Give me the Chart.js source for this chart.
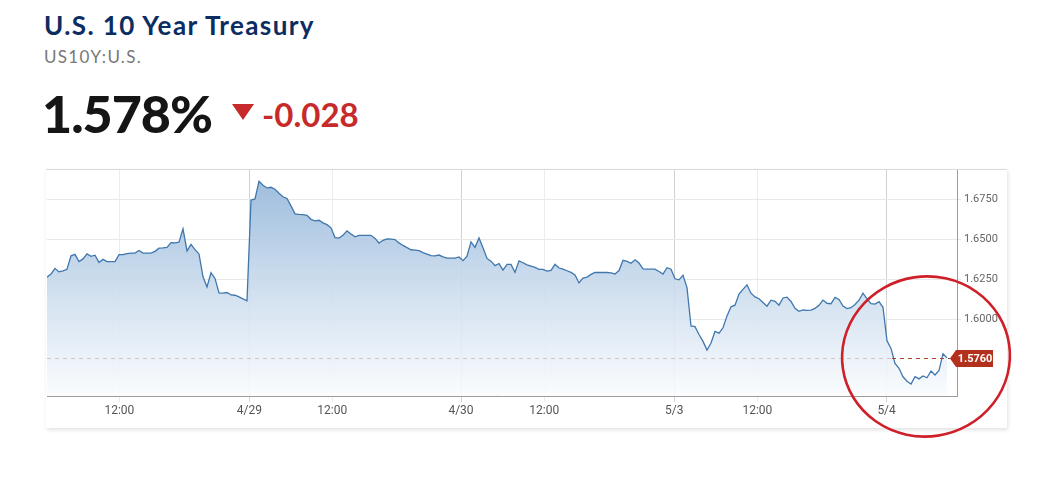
<!DOCTYPE html>
<html>
<head>
<meta charset="utf-8">
<script src="https://cdn.jsdelivr.net/npm/chart.js@4.4.1/dist/chart.umd.min.js"></script>
<style>
  html, body { margin: 0; padding: 0; background: #ffffff; width: 1058px; height: 501px; overflow: hidden; }
  .abs { position: absolute; white-space: nowrap; }
  #title { left: 44px; top: 9px; font: 700 26px Lato, "Open Sans", sans-serif; color: #0c2d62; }
  #symbol { left: 44px; top: 46px; font: 400 17px Lato, "Open Sans", sans-serif; color: #777777; }
  #last { left: 42px; top: 82px; font: 900 52px Lato, "Open Sans", sans-serif; color: #151515; letter-spacing: -1px; }
  #arrow { left: 232px; top: 104px; width: 0; height: 0; border-left: 11px solid transparent; border-right: 11px solid transparent; border-top: 16px solid #c62a2a; }
  #change { left: 262px; top: 94px; font: 700 33px Lato, "Open Sans", sans-serif; color: #c62a2a; }
  #panel { left: 46px; top: 169px; width: 961px; height: 258px; border-top: 1px solid #dcdcdc; box-shadow: 1px 2px 4px rgba(0,0,0,0.12); background: #fff; }
  #c { position: absolute; left: 0; top: 0; }
</style>
</head>
<body>
<div class="abs" id="title">U.S. 10 Year Treasury</div>
<div class="abs" id="symbol">US10Y:U.S.</div>
<div class="abs" id="last">1.578%</div>
<div class="abs" id="arrow"></div>
<div class="abs" id="change">-0.028</div>
<div class="abs" id="panel"></div>
<canvas id="c" width="1058" height="501"></canvas>
<script>
// ---- data ----
const yields = [
  1.6264, 1.6284, 1.6319, 1.6297, 1.6303, 1.6313, 1.6397, 1.6406, 1.6361, 1.6378,
  1.6409, 1.6394, 1.6401, 1.6356, 1.6375, 1.6361, 1.6361, 1.6361, 1.6405, 1.6405,
  1.6411, 1.6414, 1.6414, 1.6430, 1.6414, 1.6414, 1.6414, 1.6425, 1.6445, 1.6447,
  1.6450, 1.6480, 1.6478, 1.6483, 1.6566, 1.6428, 1.6469, 1.6436, 1.6409, 1.6266,
  1.6203, 1.6291, 1.6256, 1.6166, 1.6164, 1.6168, 1.6153, 1.6151, 1.6141, 1.6128,
  1.6116, 1.6745, 1.6752, 1.6863, 1.6838, 1.6821, 1.6825, 1.6813, 1.6788, 1.6766,
  1.6755, 1.6709, 1.6659, 1.6656, 1.6654, 1.6650, 1.6625, 1.6616, 1.6619, 1.6603,
  1.6592, 1.6572, 1.6511, 1.6508, 1.6526, 1.6553, 1.6534, 1.6516, 1.6525, 1.6525,
  1.6525, 1.6525, 1.6506, 1.6477, 1.6494, 1.6503, 1.6501, 1.6499, 1.6478, 1.6462,
  1.6448, 1.6435, 1.6433, 1.6429, 1.6417, 1.6408, 1.6398, 1.6397, 1.6402, 1.6391,
  1.6383, 1.6383, 1.6383, 1.6390, 1.6367, 1.6395, 1.6484, 1.6450, 1.6509, 1.6447,
  1.6381, 1.6364, 1.6336, 1.6349, 1.6308, 1.6344, 1.6344, 1.6294, 1.6366, 1.6354,
  1.6341, 1.6333, 1.6325, 1.6313, 1.6313, 1.6302, 1.6306, 1.6344, 1.6321, 1.6314,
  1.6304, 1.6294, 1.6278, 1.6228, 1.6258, 1.6264, 1.6281, 1.6293, 1.6293, 1.6293,
  1.6293, 1.6291, 1.6284, 1.6305, 1.6369, 1.6363, 1.6351, 1.6372, 1.6352, 1.6316,
  1.6314, 1.6314, 1.6314, 1.6299, 1.6283, 1.6323, 1.6314, 1.6254, 1.6247, 1.6276,
  1.6199, 1.5959, 1.5955, 1.5906, 1.5863, 1.5809, 1.5853, 1.5925, 1.5914, 1.5948,
  1.6022, 1.6079, 1.6089, 1.6159, 1.6188, 1.6216, 1.6164, 1.6141, 1.6129, 1.6106,
  1.6083, 1.6120, 1.6113, 1.6089, 1.6134, 1.6139, 1.6112, 1.6070, 1.6051, 1.6059,
  1.6057, 1.6058, 1.6069, 1.6088, 1.6121, 1.6101, 1.6098, 1.6138, 1.6125, 1.6083,
  1.6068, 1.6073, 1.6093, 1.6120, 1.6164, 1.6129, 1.6099, 1.6096, 1.6111, 1.6076,
  1.5866, 1.5819, 1.5726, 1.5695, 1.5642, 1.5614, 1.5597, 1.5643, 1.5629, 1.5647,
  1.5636, 1.5678, 1.5653, 1.5681, 1.5786, 1.5760
];
const tickPositions = [18.1, 50.6, 71.3, 103.5, 124.3, 156.8, 177.6, 209.9];
const tickLabels = ['12:00', '4/29', '12:00', '4/30', '12:00', '5/3', '12:00', '5/4'];
const dayBoundary = [false, true, false, true, false, true, false, true];
const yTickValues = [1.6000, 1.6250, 1.6500, 1.6750];
const lastPrice = 1.5760;
const xRange = [0, 227.5];
const yRange = [1.5522, 1.6933];

// stretch header texts to the widths seen in the reference
function fitWidth(id, target) {
  const el = document.getElementById(id);
  const n = el.textContent.length;
  const w = el.getBoundingClientRect().width;
  el.style.letterSpacing = ((target - w) / n).toFixed(2) + 'px';
}
fitWidth('title', 271);
fitWidth('symbol', 98);

const points = yields.map((v, i) => ({ x: i, y: v }));

const overlay = {
  id: 'overlay',
  afterDatasetsDraw(chart) {
    const { ctx, chartArea: a, scales: { x, y } } = chart;
    const lastX = x.getPixelForValue(yields.length - 1);
    const py = Math.round(y.getPixelForValue(lastPrice)) + 0.5;
    ctx.save();
    ctx.lineWidth = 1;
    ctx.setLineDash([4, 4]);
    ctx.strokeStyle = 'rgba(205,190,190,0.9)';
    ctx.beginPath(); ctx.moveTo(a.left, py); ctx.lineTo(lastX - 55, py); ctx.stroke();
    ctx.strokeStyle = '#a8432c';
    ctx.beginPath(); ctx.moveTo(lastX - 55, py); ctx.lineTo(a.right, py); ctx.stroke();
    ctx.setLineDash([]);
    // price tag
    const tx = a.right - 7;
    ctx.fillStyle = '#b3301c';
    ctx.beginPath();
    ctx.moveTo(tx, py);
    ctx.lineTo(tx + 6, py - 8.5);
    ctx.lineTo(tx + 43, py - 8.5);
    ctx.lineTo(tx + 43, py + 8.5);
    ctx.lineTo(tx + 6, py + 8.5);
    ctx.closePath();
    ctx.fill();
    ctx.fillStyle = '#ffffff';
    ctx.font = 'bold 11px Roboto, sans-serif';
    ctx.textAlign = 'center';
    ctx.textBaseline = 'middle';
    ctx.fillText(lastPrice.toFixed(4), tx + 25, py + 0.5);
    // hand-drawn annotation circle
    ctx.strokeStyle = '#cf1f28';
    ctx.lineWidth = 2.6;
    ctx.beginPath();
    ctx.ellipse(lastX - 21, py - 2, 84, 80, -0.15, 0, Math.PI * 2);
    ctx.stroke();
    ctx.restore();
  }
};

new Chart(document.getElementById('c'), {
  type: 'line',
  data: {
    datasets: [{
      data: points,
      borderColor: '#3f77ad',
      borderWidth: 1.3,
      pointRadius: 0,
      tension: 0,
      fill: 'start',
      backgroundColor: (c) => {
        const a = c.chart.chartArea;
        if (!a) return 'rgba(160,190,220,0.6)';
        const g = c.chart.ctx.createLinearGradient(0, a.top, 0, a.bottom);
        g.addColorStop(0, 'rgba(148,182,218,0.95)');
        g.addColorStop(0.55, 'rgba(205,221,238,0.9)');
        g.addColorStop(1, 'rgba(250,252,254,0.9)');
        return g;
      }
    }]
  },
  options: {
    responsive: false,
    animation: false,
    layout: { padding: { left: 47, top: 170, right: 51, bottom: 81 } },
    plugins: { legend: { display: false }, tooltip: { enabled: false } },
    scales: {
      x: {
        type: 'linear', min: xRange[0], max: xRange[1],
        afterBuildTicks: (s) => { s.ticks = tickPositions.map(v => ({ value: v })); },
        afterFit: (s) => { s.height = 24; },
        ticks: {
          callback: (v, i) => tickLabels[i],
          color: '#555555', font: { family: 'Roboto', size: 12 },
          maxRotation: 0, autoSkip: false, padding: 2
        },
        grid: { color: (g) => dayBoundary[g.index] ? '#d2d2d2' : '#ececec', tickLength: 6 },
        border: { color: '#9c9c9c' }
      },
      y: {
        position: 'right', min: yRange[0], max: yRange[1],
        afterBuildTicks: (s) => { s.ticks = yTickValues.map(v => ({ value: v })); },
        afterFit: (s) => { s.width = 50; },
        ticks: {
          callback: (v) => Number(v).toFixed(4),
          color: '#666666', font: { family: 'Roboto', size: 11 }, padding: 3
        },
        grid: { color: '#e8e8e8', tickLength: 4 },
        border: { color: '#9c9c9c' }
      }
    }
  },
  plugins: [overlay]
});
</script>
</body>
</html>
